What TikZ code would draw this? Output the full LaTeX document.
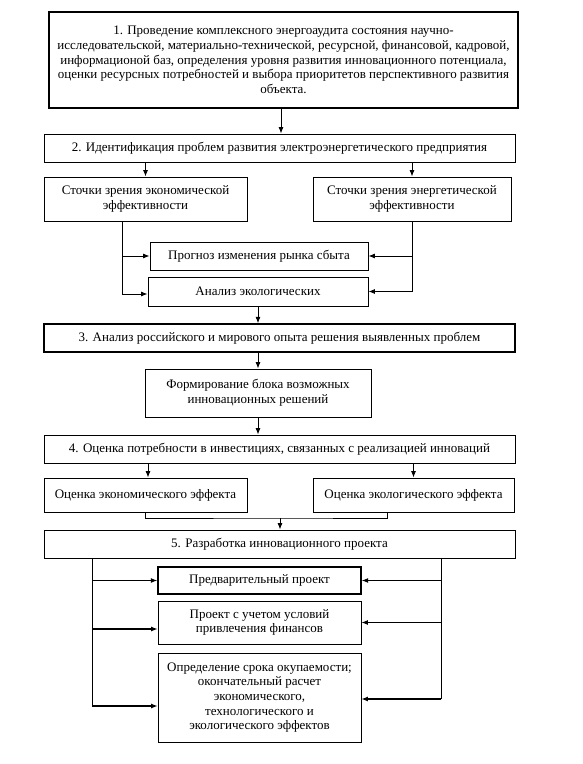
\documentclass[tikz,border=0pt]{standalone}
\usepackage{fontspec}
\setmainfont{Liberation Serif}
\usetikzlibrary{arrows.meta,calc}
\begin{document}
\begin{tikzpicture}[x=1pt,y=-1pt,
  box/.style={draw,line width=0.9pt,inner sep=1pt,align=center,font=\fontsize{13}{14.7}\selectfont},
  thick box/.style={box,line width=1.4pt},
  conn/.style={line width=0.8pt},
  arr/.style={conn,-{Latex[length=6.5pt,width=5pt]}},
  harr/.style={arr,line width=1.1pt}]
\useasboundingbox[fill=white] (0,0) rectangle (583,764);
% boxes
\node[thick box,minimum width=469,minimum height=96] (b1) at (283.5,60) {1. Проведение комплексного энергоаудита состояния научно-\\исследовательской, материально-технической, ресурсной, финансовой, кадровой,\\информационой баз, определения уровня развития инновационного потенциала,\\оценки ресурсных потребностей и выбора приоритетов перспективного развития\\объекта.};
\node[box,minimum width=471,minimum height=28] (b2) at (279.5,148) {2. Идентификация проблем развития электроэнергетического предприятия};
\node[box,minimum width=203,minimum height=44] (l1) at (145.5,199) {Сточки зрения экономической\\эффективности};
\node[box,minimum width=198,minimum height=44] (r1) at (412,199) {Сточки зрения энергетической\\эффективности};
\node[box,minimum width=218,minimum height=28] (pr) at (259,256) {Прогноз изменения рынка сбыта};
\node[box,minimum width=220,minimum height=29] (an) at (258,291.5) {Анализ экологических};
\node[thick box,minimum width=471,minimum height=28] (b3) at (279.5,338) {3. Анализ российского и мирового опыта решения выявленных проблем};
\node[box,minimum width=226,minimum height=48] (fo) at (258,393) {Формирование блока возможных\\инновационных решений};
\node[box,minimum width=471,minimum height=28] (b4) at (279.5,449) {4. Оценка потребности в инвестициях, связанных с реализацией инноваций};
\node[box,minimum width=203,minimum height=34] (l2) at (145.5,495) {Оценка экономического эффекта};
\node[box,minimum width=201,minimum height=34] (r2) at (413.5,495) {Оценка экологического эффекта};
\node[box,minimum width=471,minimum height=28] (b5) at (279.5,544) {5. Разработка инновационного проекта};
\node[thick box,minimum width=203,minimum height=27] (pv) at (259.5,580.5) {Предварительный проект};
\node[box,minimum width=203,minimum height=43] (pj) at (259.5,622.5) {Проект с учетом условий\\привлечения финансов};
\node[box,minimum width=203,minimum height=89] (od) at (259.5,697.5) {Определение срока окупаемости;\\окончательный расчет\\экономического,\\технологического и\\экологического эффектов};
% helper coordinates
\coordinate (x281) at (281,0);
\coordinate (x122) at (122,0);
\coordinate (x92) at (92,0);
\coordinate (x441) at (441,0);
\coordinate (x145) at (145,0);
\coordinate (x387) at (387,0);
\coordinate (j) at (280,518);
% connectors
\draw[arr] (b1.south -| x281) -- (b2.north -| x281);
\draw[arr] (l1.north |- b2.south) -- (l1.north);
\draw[arr] (r1.north |- b2.south) -- (r1.north);
\draw[arr] (l1.south -| x122) |- (pr.west);
\draw[arr] (l1.south -| x122) |- ([yshift=-2.5pt]an.west);
\draw[arr] (r1.south) |- (pr.east);
\draw[arr] (r1.south) |- (an.east);
\draw[arr] (an.south) -- (an.south |- b3.north);
\draw[arr] (b3.south -| fo.north) -- (fo.north);
\draw[arr] (fo.south) -- (fo.south |- b4.north);
\draw[arr] ([xshift=2.5pt]l2.north |- b4.south) -- ([xshift=2.5pt]l2.north);
\draw[arr] (r2.north |- b4.south) -- (r2.north);
\draw[conn] (l2.south -| x145) |- (j) -| (r2.south -| x387);
\draw[arr] (j) -- (j |- b5.north);
\draw[conn] (b5.south -| x92) -- ([yshift=-8.5pt]od.west -| x92);
\draw[harr] (pv.west -| x92) -- (pv.west);
\draw[harr] ([yshift=-6.5pt]pj.west -| x92) -- ([yshift=-6.5pt]pj.west);
\draw[harr] ([yshift=-8.5pt]od.west -| x92) -- ([yshift=-8.5pt]od.west);
\draw[conn] (b5.south -| x441) -- ([yshift=-1.5pt]od.east -| x441);
\draw[harr] (pv.east -| x441) -- (pv.east);
\draw[harr] (pj.east -| x441) -- (pj.east);
\draw[harr] ([yshift=-1.5pt]od.east -| x441) -- ([yshift=-1.5pt]od.east);
\end{tikzpicture}
\end{document}
